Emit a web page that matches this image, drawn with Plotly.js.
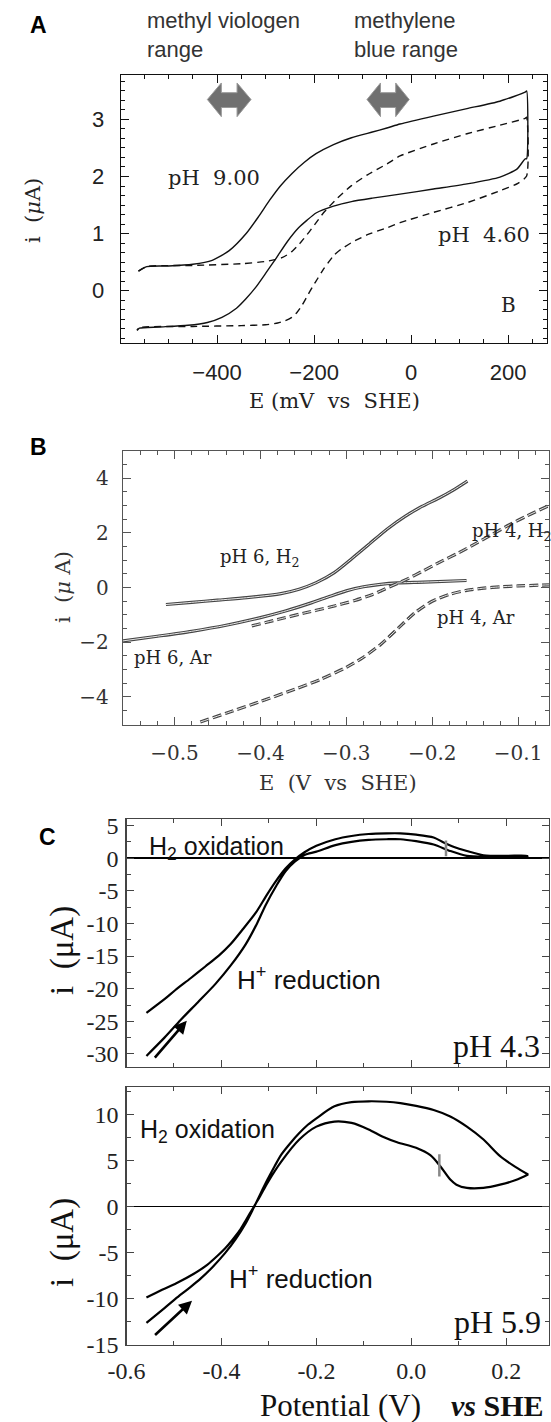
<!DOCTYPE html>
<html><head><meta charset="utf-8">
<script src="https://cdn.plot.ly/plotly-3.0.1.min.js"></script>
<style>html,body{margin:0;padding:0;background:#fff;}#plot{width:551px;height:1422px;}</style>
</head><body><div id="plot"></div>
<script>
// ---------- Panel A data (E in mV vs SHE, i in uA) ----------
const aSolidUpE   = [-562,-545,-500,-450,-410,-375,-340,-315,-292,-270,-246,-220,-196,-160,-123,-80,-50,-23,46,115,183,235,238];
const aSolidUpI   = [0.34,0.42,0.43,0.46,0.53,0.70,1.00,1.29,1.58,1.83,2.05,2.25,2.40,2.56,2.68,2.78,2.85,2.92,3.06,3.19,3.32,3.48,3.50];
const aSolidDownE = [238,235,218,183,115,46,-23,-80,-123,-160,-196,-215,-232,-255,-278,-300,-320,-340,-360,-390,-420,-460,-520,-560,-565];
const aSolidDownI = [2.31,2.31,2.13,1.99,1.87,1.78,1.69,1.62,1.56,1.48,1.36,1.23,1.10,0.86,0.57,0.30,0.06,-0.14,-0.31,-0.47,-0.56,-0.61,-0.64,-0.66,-0.70];
const aDashUpE    = [-562,-545,-450,-350,-300,-265,-245,-230,-210,-195,-181,-152,-123,-90,-50,-23,46,115,183,235,238];
const aDashUpI    = [0.34,0.42,0.44,0.47,0.51,0.58,0.69,0.82,1.03,1.20,1.36,1.62,1.84,2.03,2.22,2.36,2.57,2.75,2.90,3.02,3.04];
const aDashDownE  = [238,220,183,115,46,-23,-50,-90,-123,-145,-159,-170,-181,-192,-203,-215,-225,-235,-246,-260,-275,-300,-350,-450,-560,-565];
const aDashDownI  = [2.01,1.88,1.75,1.54,1.37,1.19,1.10,0.98,0.84,0.72,0.62,0.50,0.37,0.22,0.07,-0.11,-0.26,-0.38,-0.47,-0.53,-0.57,-0.60,-0.615,-0.63,-0.65,-0.69];
const aArrowMV    = [-420,-330];   // methyl viologen range (mV)
const aArrowMB    = [-91,-4];      // methylene blue range (mV)

// ---------- Panel B data (E in V vs SHE, i in uA) ----------
const bPh6H2E = [-0.51,-0.48,-0.45,-0.416,-0.376,-0.355,-0.335,-0.314,-0.294,-0.273,-0.253,-0.232,-0.212,-0.192,-0.175,-0.159];
const bPh6H2I = [-0.62,-0.54,-0.46,-0.37,-0.22,-0.06,0.18,0.55,1.05,1.60,2.13,2.60,2.97,3.28,3.58,3.90];
const bPh6ArE = [-0.56,-0.52,-0.48,-0.44,-0.40,-0.37,-0.34,-0.32,-0.30,-0.28,-0.26,-0.24,-0.21,-0.16];
const bPh6ArI = [-1.95,-1.78,-1.60,-1.38,-1.10,-0.85,-0.55,-0.33,-0.12,0.03,0.12,0.17,0.20,0.26];
const bPh4H2E = [-0.41,-0.38,-0.35,-0.32,-0.29,-0.27,-0.25,-0.23,-0.21,-0.19,-0.17,-0.15,-0.13,-0.11,-0.09,-0.064];
const bPh4H2I = [-1.40,-1.17,-0.94,-0.72,-0.47,-0.26,0.02,0.30,0.62,0.95,1.26,1.60,1.95,2.30,2.62,3.00];
const bPh4ArE = [-0.47,-0.44,-0.40,-0.36,-0.33,-0.30,-0.28,-0.26,-0.24,-0.22,-0.20,-0.18,-0.16,-0.14,-0.12,-0.10,-0.064];
const bPh4ArI = [-4.92,-4.60,-4.17,-3.72,-3.36,-2.92,-2.55,-2.08,-1.50,-0.92,-0.50,-0.25,-0.10,-0.02,0.03,0.06,0.10];

// ---------- Panel C data (Potential V vs SHE, i in uA) ----------
const cTopFwdE = [-0.558,-0.52,-0.486,-0.45,-0.413,-0.38,-0.349,-0.325,-0.307,-0.285,-0.265,-0.245,-0.225,-0.20,-0.16,-0.126,-0.09,-0.052,-0.023,0.01,0.047,0.082,0.117,0.16,0.20,0.244];
const cTopFwdI = [-30.3,-27.5,-24.8,-22.1,-19.3,-16.4,-13.2,-10.0,-7.2,-4.3,-2.0,-0.5,0.5,1.0,2.0,2.5,2.8,2.9,2.9,2.6,2.1,1.1,0.35,0.2,0.2,0.2];
const cTopRevE = [0.244,0.20,0.152,0.117,0.09,0.068,0.047,0.01,-0.023,-0.052,-0.09,-0.126,-0.16,-0.20,-0.225,-0.245,-0.265,-0.286,-0.305,-0.328,-0.355,-0.381,-0.405,-0.434,-0.465,-0.497,-0.52,-0.558];
const cTopRevI = [0.35,0.35,0.45,1.1,1.7,2.4,3.17,3.6,3.8,3.8,3.7,3.4,2.9,1.9,0.9,-0.2,-1.6,-3.6,-5.7,-8.4,-10.9,-13.2,-14.9,-16.6,-18.4,-20.2,-21.6,-23.7];
const cTopMarkE = [0.073,0.073];
const cTopMarkI = [0.3,2.7];

const cBotFwdE = [-0.558,-0.52,-0.497,-0.47,-0.444,-0.418,-0.392,-0.37,-0.349,-0.333,-0.318,-0.303,-0.288,-0.274,-0.255,-0.236,-0.218,-0.20,-0.162,-0.126,-0.09,-0.052,-0.023,0.01,0.047,0.082,0.117,0.152,0.187,0.22,0.246];
const cBotFwdI = [-12.6,-11.0,-10.0,-8.9,-7.8,-6.5,-5.0,-3.5,-1.8,-0.2,1.4,2.95,4.4,5.66,6.9,8.0,8.9,9.6,10.9,11.35,11.45,11.4,11.25,10.95,10.5,9.8,8.7,7.3,5.5,4.3,3.5];
const cBotRevE = [0.246,0.22,0.187,0.152,0.117,0.095,0.082,0.061,0.04,0.01,-0.03,-0.06,-0.09,-0.126,-0.162,-0.20,-0.236,-0.274,-0.303,-0.318,-0.333,-0.348,-0.362,-0.377,-0.392,-0.41,-0.43,-0.459,-0.495,-0.525,-0.558];
const cBotRevI = [3.5,2.9,2.4,2.05,2.05,2.4,2.95,4.4,5.6,6.4,7.0,7.6,8.4,9.1,9.25,8.7,7.3,4.9,2.6,1.2,-0.1,-1.4,-2.6,-3.6,-4.5,-5.4,-6.3,-7.3,-8.3,-9.0,-9.85];
const cBotMarkE = [0.059,0.059];
const cBotMarkI = [3.3,5.7];

const cTopYTicks = [5,0,-5,-10,-15,-20,-25,-30];
const cBotYTicks = [10,5,0,-5,-10,-15];
const cXTicks = [-0.6,-0.4,-0.2,0.0,0.2];
const cXTickText = ['-0.6','-0.4','-0.2','0.0','0.2'];

// ---------- layout helpers ----------
const W = 551, H = 1422;
const fx = px => px / W;
const fy = py => 1 - py / H;
const SANS = 'Liberation Sans, Arial, sans-serif';
const CM = 'DejaVu Serif, serif';
const TIMES = 'Liberation Serif, Times New Roman, serif';

const traces = [];
// Panel A
traces.push({x: aSolidUpE.concat(aSolidDownE), y: aSolidUpI.concat(aSolidDownI), xaxis:'x', yaxis:'y', mode:'lines', line:{color:'#111', width:1.4, shape:'spline', smoothing:0.6}});
traces.push({x: aDashUpE.concat(aDashDownE), y: aDashUpI.concat(aDashDownI), xaxis:'x', yaxis:'y', mode:'lines', line:{color:'#111', width:1.4, dash:'7px,5px', shape:'spline', smoothing:0.6}});
// Panel B: each curve drawn twice (dark wide + light thin) to mimic the double trace
function bTrace(E, I, dash){
  traces.push({x:E, y:I, xaxis:'x2', yaxis:'y2', mode:'lines', line:{color:'#444', width:3.2, dash:dash, shape:'spline', smoothing:0.7}});
  traces.push({x:E, y:I, xaxis:'x2', yaxis:'y2', mode:'lines', line:{color:'#e8e8e8', width:1.0, dash:dash, shape:'spline', smoothing:0.7}});
}
bTrace(bPh6H2E, bPh6H2I, 'solid');
bTrace(bPh6ArE, bPh6ArI, 'solid');
bTrace(bPh4H2E, bPh4H2I, '9px,4px');
bTrace(bPh4ArE, bPh4ArI, '9px,4px');
// Panel C
traces.push({x: cTopFwdE.concat(cTopRevE), y: cTopFwdI.concat(cTopRevI), xaxis:'x3', yaxis:'y3', mode:'lines', line:{color:'#000', width:2.2, shape:'spline', smoothing:0.8}});
traces.push({x: cTopMarkE, y: cTopMarkI, xaxis:'x3', yaxis:'y3', mode:'lines', line:{color:'#888', width:2.5}});
traces.push({x: cBotFwdE.concat(cBotRevE), y: cBotFwdI.concat(cBotRevI), xaxis:'x4', yaxis:'y4', mode:'lines', line:{color:'#000', width:2.2, shape:'spline', smoothing:0.8}});
traces.push({x: cBotMarkE, y: cBotMarkI, xaxis:'x4', yaxis:'y4', mode:'lines', line:{color:'#888', width:2.5}});

function ax(extra){
  return Object.assign({showgrid:false, zeroline:false, showline:true, mirror:'allticks', ticks:'inside', fixedrange:true}, extra);
}

const layout = {
  width: W, height: H, margin:{l:0,r:0,t:0,b:0}, showlegend:false,
  paper_bgcolor:'#fff', plot_bgcolor:'#fff',
  xaxis: ax({domain:[fx(121), fx(547)], anchor:'y', range:[-598,280], tickvals:[-400,-200,0,200], linecolor:'#111', linewidth:1.3, ticklen:8, tickcolor:'#111',
    tickfont:{family:SANS, size:22, color:'#222'}, ticklabelstandoff:9,
    minor:{dtick:50, ticklen:4, ticks:'inside', tickcolor:'#111'}}),
  yaxis: ax({domain:[fy(343), fy(75)], anchor:'x', range:[-0.92,3.78], tickvals:[0,1,2,3], linecolor:'#111', linewidth:1.3, ticklen:8, tickcolor:'#111',
    tickfont:{family:SANS, size:22, color:'#222'}, ticklabelstandoff:11,
    minor:{dtick:1/6, ticklen:4, ticks:'inside', tickcolor:'#111'}}),
  xaxis2: ax({domain:[fx(123), fx(549)], anchor:'y2', range:[-0.56,-0.064], tickvals:[-0.5,-0.4,-0.3,-0.2,-0.1], linecolor:'#555', linewidth:1.3, ticklen:8, tickcolor:'#555',
    tickfont:{family:CM, size:20, color:'#333'}, ticklabelstandoff:10,
    minor:{dtick:0.02, ticklen:4, ticks:'inside', tickcolor:'#555'}}),
  yaxis2: ax({domain:[fy(725), fy(451)], anchor:'x2', range:[-5.03,5.0], tickvals:[-4,-2,0,2,4], linecolor:'#555', linewidth:1.3, ticklen:8, tickcolor:'#555',
    tickfont:{family:CM, size:20, color:'#333'}, ticklabelstandoff:9,
    minor:{dtick:0.5, ticklen:4, ticks:'inside', tickcolor:'#555'}}),
  xaxis3: ax({domain:[fx(126.5), fx(549)], anchor:'y3', range:[-0.6,0.29], tickvals:cXTicks, ticktext:cXTickText, showticklabels:false, linecolor:'#444', linewidth:1.3, ticklen:7, tickcolor:'#444',
    minor:{dtick:0.1, ticklen:4, ticks:'inside', tickcolor:'#444'}}),
  yaxis3: ax({domain:[fy(1067), fy(819)], anchor:'x3', range:[-32,6], tickvals:cTopYTicks, ticktext:cTopYTicks.map(String), linecolor:'#444', linewidth:1.3, ticklen:7, tickcolor:'#444',
    tickfont:{family:TIMES, size:24, color:'#222'}, ticklabelstandoff:2,
    zeroline:true, zerolinecolor:'#000', zerolinewidth:1.4,
    minor:{dtick:2.5, ticklen:4, ticks:'inside', tickcolor:'#444'}}),
  xaxis4: ax({domain:[fx(126.5), fx(549)], anchor:'y4', range:[-0.6,0.29], tickvals:cXTicks, ticktext:cXTickText, linecolor:'#444', linewidth:1.3, ticklen:7, tickcolor:'#444',
    tickfont:{family:TIMES, size:24, color:'#222'}, ticklabelstandoff:4,
    minor:{dtick:0.1, ticklen:4, ticks:'inside', tickcolor:'#444'}}),
  yaxis4: ax({domain:[fy(1345), fy(1087)], anchor:'x4', range:[-15,13], tickvals:cBotYTicks, ticktext:cBotYTicks.map(String), linecolor:'#444', linewidth:1.3, ticklen:7, tickcolor:'#444',
    tickfont:{family:TIMES, size:24, color:'#222'}, ticklabelstandoff:2,
    zeroline:true, zerolinecolor:'#000', zerolinewidth:1.4,
    minor:{dtick:2.5, ticklen:4, ticks:'inside', tickcolor:'#444'}}),
  shapes: [],
  annotations: []
};

// gray double-headed block arrows in panel A
function blockArrow(r){
  const x0=r[0], x1=r[1], h=(x1-x0)*0.32, yc=3.35, yt=3.64, yb=3.05, st=3.47, sb=3.21;
  return {type:'path', xref:'x', yref:'y', fillcolor:'#707070', line:{color:'#9a9a9a', width:1},
    path:`M${x0},${yc} L${x0+h},${yt} L${x0+h},${st} L${x1-h},${st} L${x1-h},${yt} L${x1},${yc} L${x1-h},${yb} L${x1-h},${sb} L${x0+h},${sb} L${x0+h},${yb} Z`};
}
layout.shapes.push(blockArrow(aArrowMV), blockArrow(aArrowMB));

function txt(text, px, py, font, extra){
  return Object.assign({text:text, xref:'paper', yref:'paper', x:fx(px), y:fy(py), showarrow:false, xanchor:'center', yanchor:'middle', font:font}, extra||{});
}
const A = layout.annotations;
// panel letters
A.push(txt('<b>A</b>', 38, 25, {family:SANS, size:23, color:'#000'}));
A.push(txt('<b>B</b>', 38, 447, {family:SANS, size:23, color:'#000'}));
A.push(txt('<b>C</b>', 47, 837, {family:SANS, size:23, color:'#000'}));
// panel A texts
A.push(txt('methyl viologen<br>range', 145, 35, {family:SANS, size:22, color:'#333'}, {xanchor:'left', align:'left'}));
A.push(txt('methylene<br>blue range', 352, 35, {family:SANS, size:22, color:'#333'}, {xanchor:'left', align:'left'}));
A.push(txt('pH&nbsp;&nbsp;9.00', 214, 178, {family:CM, size:21, color:'#222'}));
A.push(txt('pH&nbsp;&nbsp;4.60', 484, 235, {family:CM, size:21, color:'#222'}));
A.push(txt('B', 508, 305, {family:CM, size:20, color:'#222'}));
A.push(txt('i&nbsp;&nbsp;(<i>μ</i>A)', 33, 211, {family:CM, size:21, color:'#222'}, {textangle:-90}));
A.push(txt('E&nbsp;(mV&nbsp;&nbsp;vs&nbsp;&nbsp;SHE)', 334, 401, {family:CM, size:21, color:'#222'}));
// panel B texts
A.push(txt('pH&nbsp;6,&nbsp;H<sub>2</sub>', 260, 558, {family:CM, size:18, color:'#222'}));
A.push(txt('pH&nbsp;4,&nbsp;H<sub>2</sub>', 470, 532, {family:CM, size:18, color:'#222'}, {xanchor:'left'}));
A.push(txt('pH&nbsp;4,&nbsp;Ar', 476, 617, {family:CM, size:18, color:'#222'}));
A.push(txt('pH&nbsp;6,&nbsp;Ar', 173, 657, {family:CM, size:18, color:'#222'}));
A.push(txt('i&nbsp;&nbsp;(<i>μ</i>&nbsp;A)', 63, 587, {family:CM, size:21, color:'#333'}, {textangle:-90}));
A.push(txt('E&nbsp;&nbsp;(V&nbsp;&nbsp;vs&nbsp;&nbsp;SHE)', 338, 783, {family:CM, size:21, color:'#333'}));
// panel C texts
A.push(txt('H<sub>2</sub> oxidation', 216, 848, {family:SANS, size:25, color:'#111'}));
A.push(txt('H<sup>+</sup> reduction', 309, 978, {family:SANS, size:26, color:'#111'}));
A.push(txt('pH 4.3', 496, 1046, {family:TIMES, size:32, color:'#111'}));
A.push(txt('i&nbsp;&nbsp;(μA)', 62, 951, {family:TIMES, size:33, color:'#111'}, {textangle:-90}));
A.push(txt('H<sub>2</sub> oxidation', 207, 1131, {family:SANS, size:25, color:'#111'}));
A.push(txt('H<sup>+</sup> reduction', 301, 1277, {family:SANS, size:26, color:'#111'}));
A.push(txt('pH 5.9', 497, 1322, {family:TIMES, size:32, color:'#111'}));
A.push(txt('i&nbsp;&nbsp;(μA)', 62, 1243, {family:TIMES, size:33, color:'#111'}, {textangle:-90}));
A.push(txt('Potential (V)', 340, 1405, {family:TIMES, size:31, color:'#111'}));
A.push(txt('<b><i>vs</i> SHE</b>', 497, 1405, {family:TIMES, size:30, color:'#111'}));
// scan-direction arrows in panel C
A.push({xref:'x3', yref:'y3', axref:'x3', ayref:'y3', x:-0.473, y:-24.9, ax:-0.543, ay:-30.8, showarrow:true, arrowhead:2, arrowsize:1, arrowwidth:2.6, arrowcolor:'#000', text:''});
A.push({xref:'x4', yref:'y4', axref:'x4', ayref:'y4', x:-0.462, y:-10.2, ax:-0.543, ay:-14.07, showarrow:true, arrowhead:2, arrowsize:1, arrowwidth:2.6, arrowcolor:'#000', text:''});

Plotly.newPlot('plot', traces, layout, {staticPlot:true, displayModeBar:false});
</script>
</body></html>
